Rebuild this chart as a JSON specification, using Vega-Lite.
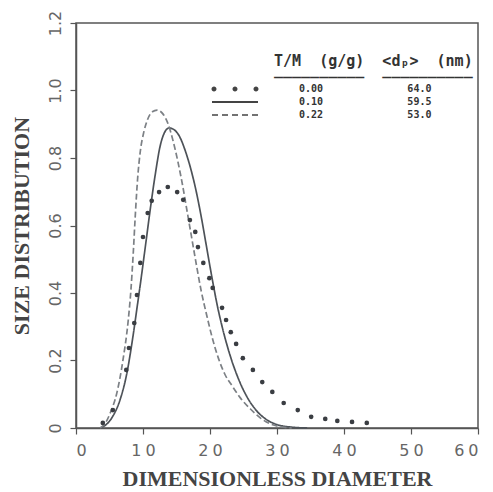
{
  "$schema": "https://vega.github.io/schema/vega-lite/v6.json",
  "width": 402,
  "height": 405,
  "autosize": {"type": "none"},
  "padding": {"left": 76, "top": 23, "right": 15, "bottom": 64},
  "background": "white",
  "config": {
    "view": {"stroke": "#555", "strokeWidth": 1.5},
    "axis": {
      "grid": false,
      "domainColor": "#555",
      "domainWidth": 1.5,
      "tickColor": "#555",
      "tickWidth": 1.2,
      "labelFont": "DejaVu Sans",
      "labelFontSize": 16,
      "labelColor": "#666",
      "titleFont": "Liberation Serif",
      "titleFontSize": 22,
      "titleFontWeight": "bold",
      "titleColor": "#444"
    }
  },
  "datasets": {
    "curves": [
      {"series": "0.00", "x": 4.0, "y": 0.015},
      {"series": "0.00", "x": 5.5, "y": 0.053},
      {"series": "0.00", "x": 7.5, "y": 0.172},
      {"series": "0.00", "x": 7.9, "y": 0.237},
      {"series": "0.00", "x": 8.7, "y": 0.311},
      {"series": "0.00", "x": 9.1, "y": 0.394},
      {"series": "0.00", "x": 9.6, "y": 0.489},
      {"series": "0.00", "x": 10.0, "y": 0.566},
      {"series": "0.00", "x": 10.7, "y": 0.637},
      {"series": "0.00", "x": 11.3, "y": 0.673},
      {"series": "0.00", "x": 12.4, "y": 0.699},
      {"series": "0.00", "x": 13.7, "y": 0.714},
      {"series": "0.00", "x": 15.1, "y": 0.699},
      {"series": "0.00", "x": 16.0, "y": 0.676},
      {"series": "0.00", "x": 17.0, "y": 0.616},
      {"series": "0.00", "x": 17.8, "y": 0.581},
      {"series": "0.00", "x": 18.2, "y": 0.536},
      {"series": "0.00", "x": 19.0, "y": 0.489},
      {"series": "0.00", "x": 19.9, "y": 0.444},
      {"series": "0.00", "x": 20.4, "y": 0.415},
      {"series": "0.00", "x": 21.8, "y": 0.356},
      {"series": "0.00", "x": 22.4, "y": 0.32},
      {"series": "0.00", "x": 23.1, "y": 0.284},
      {"series": "0.00", "x": 23.9, "y": 0.249},
      {"series": "0.00", "x": 24.9, "y": 0.207},
      {"series": "0.00", "x": 26.4, "y": 0.172},
      {"series": "0.00", "x": 27.8, "y": 0.136},
      {"series": "0.00", "x": 29.3, "y": 0.107},
      {"series": "0.00", "x": 31.0, "y": 0.074},
      {"series": "0.00", "x": 33.1, "y": 0.053},
      {"series": "0.00", "x": 35.1, "y": 0.033},
      {"series": "0.00", "x": 37.2, "y": 0.027},
      {"series": "0.00", "x": 39.0, "y": 0.021},
      {"series": "0.00", "x": 41.2, "y": 0.018},
      {"series": "0.00", "x": 43.4, "y": 0.015},
      {"series": "0.10", "x": 3.6, "y": 0.0},
      {"series": "0.10", "x": 4.5, "y": 0.01},
      {"series": "0.10", "x": 5.5, "y": 0.035},
      {"series": "0.10", "x": 6.6, "y": 0.085},
      {"series": "0.10", "x": 7.6, "y": 0.163},
      {"series": "0.10", "x": 8.4, "y": 0.258},
      {"series": "0.10", "x": 9.1, "y": 0.355},
      {"series": "0.10", "x": 9.8, "y": 0.455},
      {"series": "0.10", "x": 10.5, "y": 0.56},
      {"series": "0.10", "x": 11.2, "y": 0.665},
      {"series": "0.10", "x": 11.9, "y": 0.76},
      {"series": "0.10", "x": 12.5, "y": 0.83},
      {"series": "0.10", "x": 13.2, "y": 0.875},
      {"series": "0.10", "x": 13.9, "y": 0.889},
      {"series": "0.10", "x": 14.7, "y": 0.883},
      {"series": "0.10", "x": 15.5, "y": 0.862},
      {"series": "0.10", "x": 16.3, "y": 0.822},
      {"series": "0.10", "x": 17.1, "y": 0.77},
      {"series": "0.10", "x": 17.9, "y": 0.705},
      {"series": "0.10", "x": 18.7, "y": 0.625},
      {"series": "0.10", "x": 19.5, "y": 0.535},
      {"series": "0.10", "x": 20.3, "y": 0.445},
      {"series": "0.10", "x": 21.1, "y": 0.362},
      {"series": "0.10", "x": 21.9, "y": 0.293},
      {"series": "0.10", "x": 23.0, "y": 0.215},
      {"series": "0.10", "x": 24.3, "y": 0.143},
      {"series": "0.10", "x": 25.5, "y": 0.093},
      {"series": "0.10", "x": 27.0, "y": 0.05},
      {"series": "0.10", "x": 28.5, "y": 0.024},
      {"series": "0.10", "x": 30.0, "y": 0.01},
      {"series": "0.10", "x": 32.0, "y": 0.003},
      {"series": "0.10", "x": 34.5, "y": 0.0},
      {"series": "0.22", "x": 3.6, "y": 0.0},
      {"series": "0.22", "x": 4.4, "y": 0.015},
      {"series": "0.22", "x": 5.1, "y": 0.044},
      {"series": "0.22", "x": 6.1, "y": 0.104},
      {"series": "0.22", "x": 7.0, "y": 0.2},
      {"series": "0.22", "x": 7.8, "y": 0.32},
      {"series": "0.22", "x": 8.2, "y": 0.41},
      {"series": "0.22", "x": 8.55, "y": 0.52},
      {"series": "0.22", "x": 8.85, "y": 0.63},
      {"series": "0.22", "x": 9.2, "y": 0.74},
      {"series": "0.22", "x": 9.6, "y": 0.82},
      {"series": "0.22", "x": 10.1, "y": 0.875},
      {"series": "0.22", "x": 10.7, "y": 0.915},
      {"series": "0.22", "x": 11.4, "y": 0.937},
      {"series": "0.22", "x": 12.1, "y": 0.942},
      {"series": "0.22", "x": 13.0, "y": 0.93},
      {"series": "0.22", "x": 13.8, "y": 0.898},
      {"series": "0.22", "x": 14.5, "y": 0.85},
      {"series": "0.22", "x": 15.2, "y": 0.79},
      {"series": "0.22", "x": 15.9, "y": 0.72},
      {"series": "0.22", "x": 16.6, "y": 0.64},
      {"series": "0.22", "x": 17.3, "y": 0.56},
      {"series": "0.22", "x": 18.0, "y": 0.48},
      {"series": "0.22", "x": 18.7, "y": 0.405},
      {"series": "0.22", "x": 19.5, "y": 0.335},
      {"series": "0.22", "x": 20.3, "y": 0.27},
      {"series": "0.22", "x": 21.2, "y": 0.21},
      {"series": "0.22", "x": 22.2, "y": 0.16},
      {"series": "0.22", "x": 23.3, "y": 0.125},
      {"series": "0.22", "x": 24.5, "y": 0.09},
      {"series": "0.22", "x": 26.0, "y": 0.057},
      {"series": "0.22", "x": 27.5, "y": 0.03},
      {"series": "0.22", "x": 29.0, "y": 0.012},
      {"series": "0.22", "x": 30.5, "y": 0.004},
      {"series": "0.22", "x": 32.2, "y": 0.0}
    ]
  },
  "encoding": {
    "x": {
      "field": "x",
      "type": "quantitative",
      "scale": {"domain": [0, 60], "nice": false},
      "axis": {
        "title": "DIMENSIONLESS DIAMETER",
        "values": [0, 10, 20, 30, 40, 50, 60],
        "tickSize": 6,
        "labelPadding": 8,
        "labelExpr": "join(split(datum.label, ''), '\u2005')",
        "titlePadding": 10
      }
    },
    "y": {
      "field": "y",
      "type": "quantitative",
      "scale": {"domain": [0, 1.2], "nice": false},
      "axis": {
        "title": "SIZE DISTRIBUTION",
        "values": [0, 0.2, 0.4, 0.6, 0.8, 1.0, 1.2],
        "labelAngle": 270,
        "labelExpr": "datum.value == 0 ? '0' : format(datum.value, '.1f')",
        "tickSize": 6,
        "labelPadding": 7,
        "titlePadding": 14
      }
    }
  },
  "layer": [
    {
      "data": {"name": "curves"},
      "transform": [{"filter": "datum.series != '0.00'"}],
      "mark": {"type": "line", "interpolate": "monotone", "strokeWidth": 1.7},
      "encoding": {
        "detail": {"field": "series", "type": "nominal"},
        "strokeDash": {
          "field": "series",
          "type": "nominal",
          "scale": {"domain": ["0.10", "0.22"], "range": [[1, 0], [6, 3]]},
          "legend": null
        },
        "color": {
          "field": "series",
          "type": "nominal",
          "scale": {"domain": ["0.10", "0.22"], "range": ["#4d5258", "#7c8085"]},
          "legend": null
        }
      }
    },
    {
      "data": {"name": "curves"},
      "transform": [{"filter": "datum.series == '0.00'"}],
      "mark": {"type": "circle", "size": 22, "color": "#3a3d42", "opacity": 1}
    },
    {
      "data": {"name": "curves"},
      "transform": [{"filter": "datum.y < 0"}],
      "mark": {"type": "point", "filled": true, "color": "#444", "opacity": 1},
      "encoding": {
        "shape": {
          "field": "series",
          "type": "nominal",
          "scale": {
            "domain": ["0.00", "0.10", "0.22"],
            "range": [
              "M-4.7,0a0.5,0.5 0 1,0 1,0a0.5,0.5 0 1,0 -1,0ZM-0.5,0a0.5,0.5 0 1,0 1,0a0.5,0.5 0 1,0 -1,0ZM3.7,0a0.5,0.5 0 1,0 1,0a0.5,0.5 0 1,0 -1,0Z",
              "M-4.6,-0.22L4.6,-0.22L4.6,0.22L-4.6,0.22Z",
              "M-4.6,-0.15L-3.4,-0.15L-3.4,0.15L-4.6,0.15ZM-2.6,-0.15L-1.4,-0.15L-1.4,0.15L-2.6,0.15ZM-0.6,-0.15L0.6,-0.15L0.6,0.15L-0.6,0.15ZM1.4,-0.15L2.6,-0.15L2.6,0.15L1.4,0.15ZM3.4,-0.15L4.6,-0.15L4.6,0.15L3.4,0.15Z"
            ]
          },
          "legend": {
            "orient": "none",
            "legendX": 154,
            "legendY": 31,
            "title": [
              "\u2800\u2800\u2800\u2800T/M\u00a0\u00a0(g/g)\u00a0\u00a0<dₚ>\u00a0\u00a0(nm)",
              "\u2800\u2800\u2800\u2800__________\u00a0\u00a0__________"
            ],
            "titleFont": "DejaVu Sans Mono",
            "titleFontSize": 15,
            "titleFontWeight": "bold",
            "titleColor": "#333",
            "titleLineHeight": 9,
            "titlePadding": 6,
            "titleLimit": 600,
            "symbolSize": 100,
            "symbolStrokeWidth": 0,
            "symbolFillColor": "#444",
            "labelOffset": 59,
            "labelFont": "DejaVu Sans Mono",
            "labelFontSize": 10,
            "labelFontWeight": "bold",
            "labelColor": "#333",
            "labelLimit": 400,
            "rowPadding": 3,
            "labelExpr": "datum.label == '0.00' ? '0.00\u00a0\u00a0\u00a0\u00a0\u00a0\u00a0\u00a0\u00a0\u00a0\u00a0\u00a0\u00a0\u00a0\u00a064.0' : datum.label == '0.10' ? '0.10\u00a0\u00a0\u00a0\u00a0\u00a0\u00a0\u00a0\u00a0\u00a0\u00a0\u00a0\u00a0\u00a0\u00a059.5' : '0.22\u00a0\u00a0\u00a0\u00a0\u00a0\u00a0\u00a0\u00a0\u00a0\u00a0\u00a0\u00a0\u00a0\u00a053.0'",
            "encode": {
              "symbols": {
                "update": {
                  "fill": {"value": "#444"},
                  "stroke": {"value": "transparent"},
                  "opacity": {"value": 1}
                }
              }
            }
          }
        }
      }
    }
  ]
}
